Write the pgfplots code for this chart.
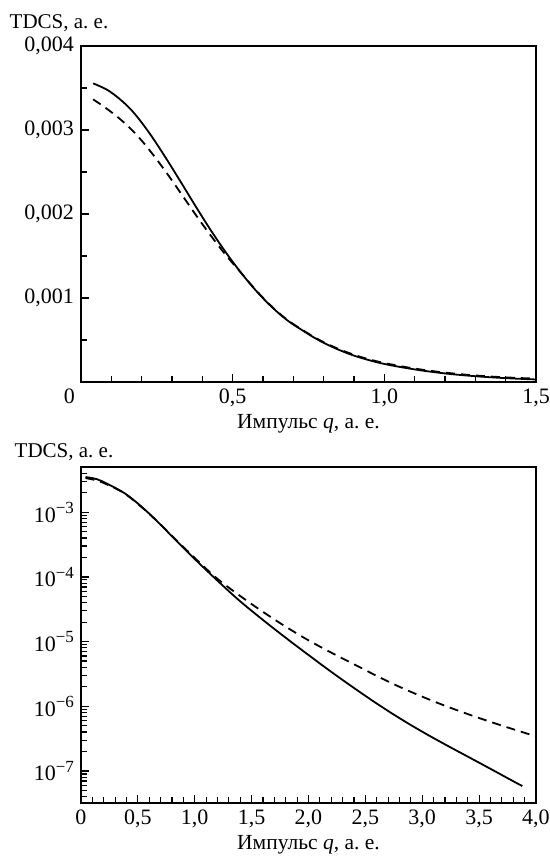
\documentclass[border=0pt]{standalone}
\usepackage{fontspec}
\setmainfont{Liberation Serif}
\usepackage{pgfplots}
\pgfplotsset{compat=1.18}
\newcommand\sexp[1]{10\raisebox{0.85ex}{\fontsize{8.5}{9}\selectfont #1}}

\pgfplotstableread{
x y
0.04 0.003555
0.09 0.00347
0.14 0.00333
0.18 0.00318
0.23 0.00294
0.28 0.002665
0.33 0.002375
0.38 0.00208
0.43 0.001795
0.48 0.00153
0.53 0.00129
0.58 0.001075
0.63 0.00089
0.68 0.000735
0.73 0.000615
0.78 0.000505
0.83 0.000415
0.88 0.00034
0.93 0.00028
1.0 0.000215
1.1 0.000150
1.2 0.000102
1.3 0.000069
1.4 0.000046
1.5 0.000030
}\topsolid

\pgfplotstableread{
x y
0.04 0.003365
0.09 0.00324
0.14 0.003095
0.19 0.002915
0.24 0.002695
0.29 0.00245
0.34 0.00219
0.39 0.00193
0.44 0.001685
0.48 0.00150
0.53 0.00129
0.58 0.00108
0.63 0.000895
0.68 0.00074
0.73 0.00062
0.78 0.000512
0.83 0.000423
0.88 0.00035
0.93 0.00029
1.0 0.000226
1.1 0.000160
1.2 0.000112
1.3 0.000078
1.4 0.000055
1.5 0.000040
}\topdashed

\pgfplotstableread{
x y
0.04 3.50e-3
0.14 3.24e-3
0.24 2.70e-3
0.386 1.95e-3
0.532 1.22e-3
0.678 7.0e-4
0.825 3.83e-4
1.044 1.59e-4
1.263 6.9e-5
1.41 4.05e-5
1.6 2.16e-5
1.8 1.146e-5
2.0 6.21e-6
2.2 3.41e-6
2.4 1.92e-6
2.6 1.104e-6
2.8 6.56e-7
3.0 4.05e-7
3.2 2.58e-7
3.4 1.67e-7
3.6 1.08e-7
3.8 6.95e-8
3.88 5.85e-8
}\botsolid

\pgfplotstableread{
x y
0.04 3.37e-3
0.14 3.09e-3
0.24 2.63e-3
0.386 1.93e-3
0.532 1.20e-3
0.678 7.05e-4
0.825 3.89e-4
1.044 1.66e-4
1.2 9.33e-5
1.4 5.07e-5
1.6 2.88e-5
1.8 1.70e-5
2.0 1.047e-5
2.2 6.76e-6
2.4 4.47e-6
2.6 2.95e-6
2.8 2.0e-6
3.0 1.41e-6
3.2 1.02e-6
3.4 7.59e-7
3.6 5.75e-7
3.8 4.42e-7
4.0 3.43e-7
}\botdashed

\begin{document}
\begin{tikzpicture}
\useasboundingbox (-40.5pt,-237.5pt) rectangle (234.5pt,191pt);
\pgfplotsset{
  every axis/.append style={
    scale only axis, width=227.5pt, height=168pt,
    axis line style={line width=0.7pt},
    tick align=inside, xtick pos=bottom, ytick pos=left,
    major tick length=4pt, minor tick length=2.8pt,
    tick style={line width=0.6pt, black},
    tick label style={font=\fontsize{11}{13}\selectfont},
    label style={font=\fontsize{10.75}{13}\selectfont},
    xlabel style={yshift=3pt},
    xlabel={Импульс \textit{q}, а.~е.},
  },
}
\begin{axis}[name=P1, at={(0pt,0pt)}, anchor=south west,
  xmin=0, xmax=1.5, ymin=0, ymax=0.004,
  xtick={0,0.5,1,1.5},
  xticklabels={{\makebox[0pt][r]{0\hspace{3pt}}},{0,5},{1,0},{1,5}},
  minor x tick num=4,
  ytick={0.001,0.002,0.003,0.004},
  yticklabels={{0,001},{0,002},{0,003},{0,004}},
  minor ytick={0.0005,0.0015,0.0025,0.0035},
  scaled y ticks=false]
\addplot[black, line width=0.9pt, smooth, tension=0.6] table[x=x,y=y] {\topsolid};
\addplot[black, line width=0.9pt, smooth, tension=0.6, dash pattern=on 4.5pt off 3pt] table[x=x,y=y] {\topdashed};
\end{axis}
\node[anchor=base, font=\fontsize{10.5}{12}\selectfont] at ([xshift=-11pt,yshift=8.5pt]P1.north west) {TDCS, а.~е.};

\begin{axis}[name=P2, at={(0pt,-210.5pt)}, anchor=south west,
  ymode=log,
  xmin=0, xmax=4, ymin=3.2e-8, ymax=5e-3,
  xtick={0,0.5,1,1.5,2,2.5,3,3.5,4},
  xticklabels={{0},{0,5},{1,0},{1,5},{2,0},{2,5},{3,0},{3,5},{4,0}},
  minor x tick num=4,
  ytick={1e-7,1e-6,1e-5,1e-4,1e-3},
  yticklabels={{\sexp{−7}},{\sexp{−6}},{\sexp{−5}},{\sexp{−4}},{\sexp{−3}}},
  minor ytick={4e-8,5e-8,6e-8,7e-8,8e-8,9e-8,
    2e-7,3e-7,4e-7,5e-7,6e-7,7e-7,8e-7,9e-7,
    2e-6,3e-6,4e-6,5e-6,6e-6,7e-6,8e-6,9e-6,
    2e-5,3e-5,4e-5,5e-5,6e-5,7e-5,8e-5,9e-5,
    2e-4,3e-4,4e-4,5e-4,6e-4,7e-4,8e-4,9e-4,
    2e-3,3e-3,4e-3}]
\addplot[black, line width=0.9pt, smooth, tension=0.6] table[x=x,y=y] {\botsolid};
\addplot[black, line width=0.9pt, smooth, tension=0.6, dash pattern=on 4.5pt off 3pt] table[x=x,y=y] {\botdashed};
\end{axis}
\node[anchor=base, font=\fontsize{10.5}{12}\selectfont] at ([xshift=-8.5pt,yshift=5pt]P2.north west) {TDCS, а.~е.};
\end{tikzpicture}
\end{document}
